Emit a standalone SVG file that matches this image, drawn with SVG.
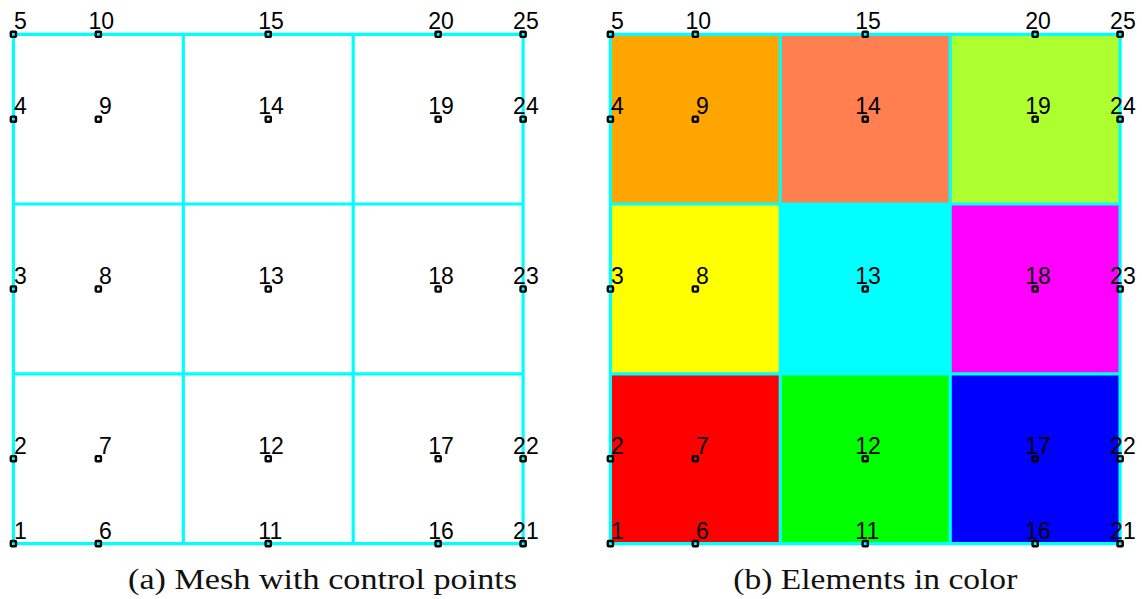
<svg xmlns="http://www.w3.org/2000/svg" width="1142" height="599" viewBox="0 0 1142 599">
<style>
.grid{stroke:#00ffff;stroke-width:3.2;fill:none;stroke-linecap:square}
.mk{fill:none;stroke:#000;stroke-width:2.4}
.lb{font-family:"Liberation Sans",Arial,sans-serif;font-size:23px;fill:#000}
.cap{font-family:"Liberation Serif","Times New Roman",serif;font-size:30px;fill:#111}
</style>
<defs>
<rect id="m" x="-2.6" y="-2.6" width="5.2" height="5.2" rx="0.8" class="mk"/>
</defs>
<rect width="1142" height="599" fill="#fff"/>

<!-- Panel (a) -->
<g id="panelA">
<g id="meshA" class="connectors">
<path class="grid" d="M13.4 34.3H523.1M13.4 204H523.1M13.4 373.9H523.1M13.4 543.6H523.1M13.4 34.3V543.6M183.3 34.3V543.6M353.2 34.3V543.6M523.1 34.3V543.6"/>
</g>
<g id="pointsA">
<g id="a1"><use href="#m" x="13.4" y="543.6"/><text class="lb" x="14" y="538.6">1</text></g>
<g id="a2"><use href="#m" x="13.4" y="458.7"/><text class="lb" x="14" y="453.7">2</text></g>
<g id="a3"><use href="#m" x="13.4" y="289"/><text class="lb" x="14" y="284">3</text></g>
<g id="a4"><use href="#m" x="13.4" y="119.2"/><text class="lb" x="14" y="114.2">4</text></g>
<g id="a5"><use href="#m" x="13.4" y="34.3"/><text class="lb" x="14" y="29.3">5</text></g>
<g id="a6"><use href="#m" x="98.35" y="543.6"/><text class="lb" x="98.9" y="538.6">6</text></g>
<g id="a7"><use href="#m" x="98.35" y="458.7"/><text class="lb" x="98.9" y="453.7">7</text></g>
<g id="a8"><use href="#m" x="98.35" y="289"/><text class="lb" x="98.9" y="284">8</text></g>
<g id="a9"><use href="#m" x="98.35" y="119.2"/><text class="lb" x="98.9" y="114.2">9</text></g>
<g id="a10"><use href="#m" x="98.35" y="34.3"/><text class="lb" x="88.4" y="29.3">10</text></g>
<g id="a11"><use href="#m" x="268.25" y="543.6"/><text class="lb" x="258.3" y="538.6">11</text></g>
<g id="a12"><use href="#m" x="268.25" y="458.7"/><text class="lb" x="258.3" y="453.7">12</text></g>
<g id="a13"><use href="#m" x="268.25" y="289"/><text class="lb" x="258.3" y="284">13</text></g>
<g id="a14"><use href="#m" x="268.25" y="119.2"/><text class="lb" x="258.3" y="114.2">14</text></g>
<g id="a15"><use href="#m" x="268.25" y="34.3"/><text class="lb" x="258.3" y="29.3">15</text></g>
<g id="a16"><use href="#m" x="438.15" y="543.6"/><text class="lb" x="428.2" y="538.6">16</text></g>
<g id="a17"><use href="#m" x="438.15" y="458.7"/><text class="lb" x="428.2" y="453.7">17</text></g>
<g id="a18"><use href="#m" x="438.15" y="289"/><text class="lb" x="428.2" y="284">18</text></g>
<g id="a19"><use href="#m" x="438.15" y="119.2"/><text class="lb" x="428.2" y="114.2">19</text></g>
<g id="a20"><use href="#m" x="438.15" y="34.3"/><text class="lb" x="428.2" y="29.3">20</text></g>
<g id="a21"><use href="#m" x="523.1" y="543.6"/><text class="lb" x="513.1" y="538.6">21</text></g>
<g id="a22"><use href="#m" x="523.1" y="458.7"/><text class="lb" x="513.1" y="453.7">22</text></g>
<g id="a23"><use href="#m" x="523.1" y="289"/><text class="lb" x="513.1" y="284">23</text></g>
<g id="a24"><use href="#m" x="523.1" y="119.2"/><text class="lb" x="513.1" y="114.2">24</text></g>
<g id="a25"><use href="#m" x="523.1" y="34.3"/><text class="lb" x="513.1" y="29.3">25</text></g>
</g>
<text id="capA" class="cap" x="128" y="589" textLength="389" lengthAdjust="spacingAndGlyphs">(a) Mesh with control points</text>
</g>

<!-- Panel (b) -->
<g id="panelB">
<g id="cellsB">
<rect x="610.4" y="34.3" width="169.9" height="169.7" fill="#ffa500"/>
<rect x="780.3" y="34.3" width="169.9" height="169.7" fill="#ff7f50"/>
<rect x="950.2" y="34.3" width="169.9" height="169.7" fill="#adff2f"/>
<rect x="610.4" y="204" width="169.9" height="169.9" fill="#ffff00"/>
<rect x="780.3" y="204" width="169.9" height="169.9" fill="#00ffff"/>
<rect x="950.2" y="204" width="169.9" height="169.9" fill="#ff00ff"/>
<rect x="610.4" y="373.9" width="169.9" height="169.7" fill="#ff0000"/>
<rect x="780.3" y="373.9" width="169.9" height="169.7" fill="#00ff00"/>
<rect x="950.2" y="373.9" width="169.9" height="169.7" fill="#0000ff"/>
</g>
<g id="meshB" class="connectors">
<path class="grid" d="M610.4 34.3H1120.1M610.4 204H1120.1M610.4 373.9H1120.1M610.4 543.6H1120.1M610.4 34.3V543.6M780.3 34.3V543.6M950.2 34.3V543.6M1120.1 34.3V543.6"/>
</g>
<g id="pointsB">
<g id="b1"><use href="#m" x="610.4" y="543.6"/><text class="lb" x="611" y="538.6">1</text></g>
<g id="b2"><use href="#m" x="610.4" y="458.7"/><text class="lb" x="611" y="453.7">2</text></g>
<g id="b3"><use href="#m" x="610.4" y="289"/><text class="lb" x="611" y="284">3</text></g>
<g id="b4"><use href="#m" x="610.4" y="119.2"/><text class="lb" x="611" y="114.2">4</text></g>
<g id="b5"><use href="#m" x="610.4" y="34.3"/><text class="lb" x="611" y="29.3">5</text></g>
<g id="b6"><use href="#m" x="695.35" y="543.6"/><text class="lb" x="695.9" y="538.6">6</text></g>
<g id="b7"><use href="#m" x="695.35" y="458.7"/><text class="lb" x="695.9" y="453.7">7</text></g>
<g id="b8"><use href="#m" x="695.35" y="289"/><text class="lb" x="695.9" y="284">8</text></g>
<g id="b9"><use href="#m" x="695.35" y="119.2"/><text class="lb" x="695.9" y="114.2">9</text></g>
<g id="b10"><use href="#m" x="695.35" y="34.3"/><text class="lb" x="685.4" y="29.3">10</text></g>
<g id="b11"><use href="#m" x="865.25" y="543.6"/><text class="lb" x="855.3" y="538.6">11</text></g>
<g id="b12"><use href="#m" x="865.25" y="458.7"/><text class="lb" x="855.3" y="453.7">12</text></g>
<g id="b13"><use href="#m" x="865.25" y="289"/><text class="lb" x="855.3" y="284">13</text></g>
<g id="b14"><use href="#m" x="865.25" y="119.2"/><text class="lb" x="855.3" y="114.2">14</text></g>
<g id="b15"><use href="#m" x="865.25" y="34.3"/><text class="lb" x="855.3" y="29.3">15</text></g>
<g id="b16"><use href="#m" x="1035.15" y="543.6"/><text class="lb" x="1025.2" y="538.6">16</text></g>
<g id="b17"><use href="#m" x="1035.15" y="458.7"/><text class="lb" x="1025.2" y="453.7">17</text></g>
<g id="b18"><use href="#m" x="1035.15" y="289"/><text class="lb" x="1025.2" y="284">18</text></g>
<g id="b19"><use href="#m" x="1035.15" y="119.2"/><text class="lb" x="1025.2" y="114.2">19</text></g>
<g id="b20"><use href="#m" x="1035.15" y="34.3"/><text class="lb" x="1025.2" y="29.3">20</text></g>
<g id="b21"><use href="#m" x="1120.1" y="543.6"/><text class="lb" x="1110.1" y="538.6">21</text></g>
<g id="b22"><use href="#m" x="1120.1" y="458.7"/><text class="lb" x="1110.1" y="453.7">22</text></g>
<g id="b23"><use href="#m" x="1120.1" y="289"/><text class="lb" x="1110.1" y="284">23</text></g>
<g id="b24"><use href="#m" x="1120.1" y="119.2"/><text class="lb" x="1110.1" y="114.2">24</text></g>
<g id="b25"><use href="#m" x="1120.1" y="34.3"/><text class="lb" x="1110.1" y="29.3">25</text></g>
</g>
<text id="capB" class="cap" x="733.3" y="589" textLength="284" lengthAdjust="spacingAndGlyphs">(b) Elements in color</text>
</g>
</svg>
